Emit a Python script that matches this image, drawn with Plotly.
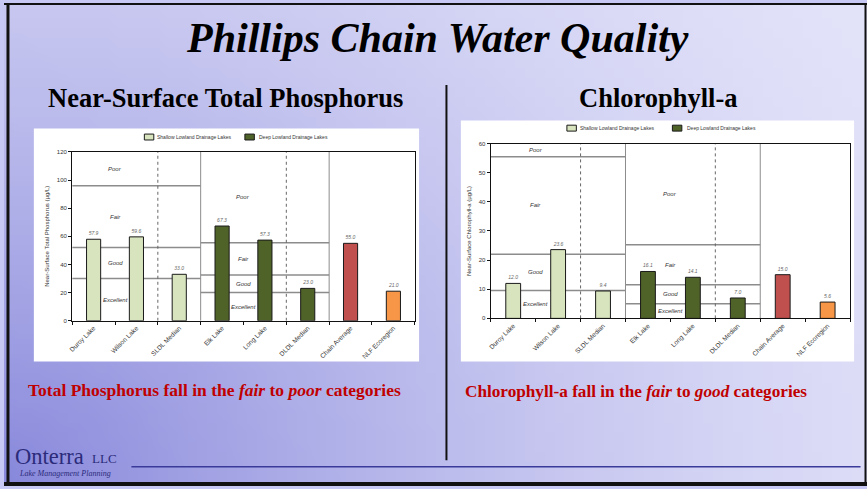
import base64
import struct
import zlib

import plotly.graph_objects as go

W, H = 867, 489

# -- data ------------------------------------------------------------------ #
categories = ["Duroy Lake", "Wilson Lake", "SLDL Median", "Elk Lake",
              "Long Lake", "DLDL Median", "Chain Average", "NLF Ecoregion"]
lake_groups = ["shallow", "shallow", "shallow", "deep", "deep", "deep",
               "chain", "ecoregion"]
tp_values = [57.9, 59.6, 33.0, 67.3, 57.3, 23.0, 55.0, 21.0]
chl_values = [12.0, 23.6, 9.4, 16.1, 14.1, 7.0, 15.0, 5.6]

quality_classes = ["Excellent", "Good", "Fair", "Poor"]
tp_shallow_breaks = [30, 52, 96]
tp_deep_breaks = [20, 32.5, 55.5]
chl_shallow_breaks = [9.6, 22, 55.5]
chl_deep_breaks = [5, 11.5, 25.3]

legend_names = ["Shallow Lowland Drainage Lakes", "Deep Lowland Drainage Lakes"]

COLORS = {"shallow": "#d7e4bd", "deep": "#4f6228",
          "chain": "#c0504d", "ecoregion": "#f79646"}
FONT = "Liberation Sans, Arial, sans-serif"
SERIF = "Liberation Serif, Times New Roman, serif"


def px(x):
    return x / W


def py(y):
    return 1 - y / H


def background_uri(w=87, h=49):
    """Small diagonal lavender gradient, stretched over the slide."""
    rows = []
    for j in range(h):
        row = bytearray([0])
        vb = 1 - (j + 0.5) / h
        for i in range(w):
            u = (i + 0.5) / w
            r = (u ** 2 + (0.65 * vb) ** 2) ** 0.5
            t = min(r / 1.25, 1.0)
            g = 1 - (1 - t) ** 1.6
            rg = int(136 + 92 * g)
            row += bytes([rg, rg, int(220 + 30 * g)])
        rows.append(bytes(row))
    raw = b"".join(rows)

    def chunk(tag, data):
        return (struct.pack(">I", len(data)) + tag + data
                + struct.pack(">I", zlib.crc32(tag + data) & 0xFFFFFFFF))

    png = (b"\x89PNG\r\n\x1a\n"
           + chunk(b"IHDR", struct.pack(">IIBBBBB", w, h, 8, 2, 0, 0, 0))
           + chunk(b"IDAT", zlib.compress(raw))
           + chunk(b"IEND", b""))
    return "data:image/png;base64," + base64.b64encode(png).decode()


fig = go.Figure()
shapes = []
annotations = []


def add_panel(values, shallow_breaks, deep_breaks, ymax, xr, yr):
    # bars, one trace per group so the colours follow the groups
    for grp in ["shallow", "deep", "chain", "ecoregion"]:
        xs = [c for c, g in zip(categories, lake_groups) if g == grp]
        ys = [v for v, g in zip(values, lake_groups) if g == grp]
        fig.add_trace(go.Bar(
            x=xs, y=ys, xaxis=xr, yaxis=yr, width=0.33, showlegend=False,
            marker=dict(color=COLORS[grp], line=dict(color="#1a1a1a", width=1)),
            texttemplate="%{y:.1f}", textposition="outside", constraintext="none",
            textfont=dict(family=FONT, size=5, color="#666", style="italic"),
            cliponaxis=False,
        ))
    # quality class lines and labels
    for (x0, x1), breaks in [((-0.5, 2.5), shallow_breaks), ((2.5, 5.5), deep_breaks)]:
        for b in breaks:
            shapes.append(dict(type="line", xref=xr, yref=yr, x0=x0, x1=x1, y0=b, y1=b,
                               layer="below", line=dict(color="#8c8c8c", width=1.5)))
        edges = [0] + breaks + [ymax]
        for k, name in enumerate(quality_classes):
            annotations.append(dict(
                xref=xr, yref=yr, x=(x0 + x1) / 2 - 0.5, y=(edges[k] + edges[k + 1]) / 2,
                text=f"<i>{name}</i>", showarrow=False,
                font=dict(family=FONT, size=6, color="#333")))
    for xv, dash, col in [(1.5, "dot", "#666"), (4.5, "dot", "#666"),
                          (2.5, "solid", "#8c8c8c"), (5.5, "solid", "#8c8c8c")]:
        shapes.append(dict(type="line", xref=xr, yref=yr, x0=xv, x1=xv, y0=0, y1=ymax,
                           layer="below", line=dict(color=col, width=1, dash=dash)))


def add_legend(y, items):
    for (bx, tx), grp, name in zip(items, ["shallow", "deep"], legend_names):
        shapes.append(dict(type="rect", xref="paper", yref="paper",
                           x0=px(bx), x1=px(bx + 9.5), y0=py(y + 3), y1=py(y - 3),
                           fillcolor=COLORS[grp], line=dict(color="#1a1a1a", width=1)))
        annotations.append(dict(xref="paper", yref="paper", x=px(tx), y=py(y),
                                xanchor="left", text=name, showarrow=False,
                                font=dict(family=FONT, size=5, color="#333")))


add_panel(tp_values, tp_shallow_breaks, tp_deep_breaks, 120, "x", "y")
add_panel(chl_values, chl_shallow_breaks, chl_deep_breaks, 60, "x2", "y2")
add_legend(135.7, [(141, 152), (242, 254)])
add_legend(126.7, [(565.5, 577), (671.5, 684)])

axis_common = dict(showline=True, linecolor="#111", linewidth=1.2, mirror=True,
                   ticks="outside", ticklen=3, tickcolor="#111", showgrid=False,
                   zeroline=False, tickfont=dict(family=FONT, size=6, color="#333"))
xcat = dict(axis_common, type="category", categoryorder="array",
            categoryarray=categories, range=[-0.5, 7.5], tickangle=-45,
            tickson="boundaries", tickfont=dict(family=FONT, size=6.5, color="#333"))

# white chart boxes
for x0, y0, x1, y1 in [(30, 127, 417, 363), (459, 119, 854, 363)]:
    shapes.append(dict(type="rect", xref="paper", yref="paper", layer="below",
                       x0=px(x0), x1=px(x1), y0=py(y1), y1=py(y0),
                       fillcolor="white", line=dict(width=0)))

# divider, footer rule and slide frame
shapes += [
    dict(type="line", xref="paper", yref="paper", x0=px(444.5), x1=px(444.5),
         y0=py(463), y1=py(83), line=dict(color="#111", width=2)),
    dict(type="line", xref="paper", yref="paper", x0=px(128), x1=px(860.5),
         y0=py(469.5), y1=py(469.5), line=dict(color="#3a3a9a", width=1.5)),
    dict(type="line", xref="paper", yref="paper", x0=px(0), x1=px(867),
         y0=py(1), y1=py(1), line=dict(color="#111", width=2)),
    dict(type="line", xref="paper", yref="paper", x0=px(0), x1=px(867),
         y0=py(487), y1=py(487), line=dict(color="#111", width=4)),
    dict(type="line", xref="paper", yref="paper", x0=px(4), x1=px(4),
         y0=py(0), y1=py(489), line=dict(color="#111", width=3)),
    dict(type="line", xref="paper", yref="paper", x0=px(865.5), x1=px(865.5),
         y0=py(0), y1=py(489), line=dict(color="#111", width=2)),
]

# slide text
annotations += [
    dict(x=px(436), y=py(35), text="<b><i>Phillips Chain Water Quality</i></b>",
         font=dict(family=SERIF, size=42, color="#000")),
    dict(x=px(223), y=py(96), text="<b>Near-Surface Total Phosphorus</b>",
         font=dict(family=SERIF, size=26.5, color="#000")),
    dict(x=px(658), y=py(96), text="<b>Chlorophyll-a</b>",
         font=dict(family=SERIF, size=26.5, color="#000")),
    dict(x=px(22), y=py(392), xanchor="left",
         text="<b>Total Phosphorus fall in the <i>fair</i> to <i>poor</i> categories</b>",
         font=dict(family=SERIF, size=17.5, color="#c00000")),
    dict(x=px(461), y=py(393), xanchor="left",
         text="<b>Chlorophyll-a fall in the <i>fair</i> to <i>good</i> categories</b>",
         font=dict(family=SERIF, size=17.2, color="#c00000")),
    dict(x=px(9), y=py(459), xanchor="left", text="Onterra",
         font=dict(family=SERIF, size=22.5, color="#2b2b7a")),
    dict(x=px(86), y=py(461), xanchor="left", text="LLC",
         font=dict(family=SERIF, size=13, color="#2b2b7a")),
    dict(x=px(13), y=py(476.5), xanchor="left", text="<i>Lake Management Planning</i>",
         font=dict(family=SERIF, size=8, color="#2b2b7a")),
]
for a in annotations:
    a.setdefault("xref", "paper")
    a.setdefault("yref", "paper")
    a.setdefault("xanchor", "center")
    a.setdefault("yanchor", "middle")
    a.setdefault("showarrow", False)

fig.update_layout(
    width=W, height=H,
    margin=dict(l=0, r=0, t=0, b=0),
    paper_bgcolor="#c8c8f4",
    plot_bgcolor="rgba(0,0,0,0)",
    barmode="overlay",
    showlegend=False,
    font=dict(family=FONT),
    images=[dict(source=background_uri(), xref="paper", yref="paper", x=0, y=1,
                 sizex=1, sizey=1, xanchor="left", yanchor="top",
                 sizing="stretch", layer="below")],
    xaxis=dict(xcat, domain=[px(68.5), px(412.7)], anchor="y"),
    yaxis=dict(axis_common, domain=[py(321.7), py(150.7)], anchor="x",
               range=[0, 120], dtick=20,
               title=dict(text="Near-Surface Total Phosphorus (µg/L)", standoff=6,
                          font=dict(family=FONT, size=6, color="#333"))),
    xaxis2=dict(xcat, domain=[px(489), px(850)], anchor="y2"),
    yaxis2=dict(axis_common, domain=[py(319.3), py(142.3)], anchor="x2",
                range=[0, 60], dtick=10,
                title=dict(text="Near-Surface Chlorophyll-a (µg/L)", standoff=6,
                           font=dict(family=FONT, size=6, color="#333"))),
    shapes=shapes,
    annotations=annotations,
)

# the page's default body margin would push the slide off the window
fig.write_html("out.html", config={"displayModeBar": False},
               post_script="document.body.style.margin='0';"
                           "document.documentElement.style.overflow='hidden';")
